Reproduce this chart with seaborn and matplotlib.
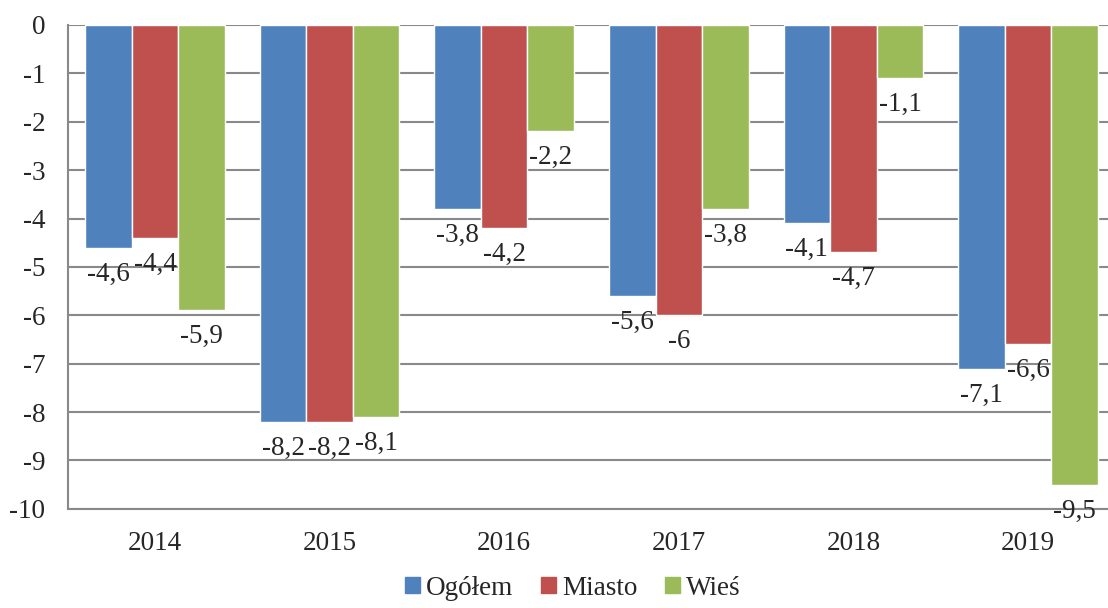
import pandas as pd
import matplotlib.pyplot as plt
import seaborn as sns

# Data
years = ['2014', '2015', '2016', '2017', '2018', '2019']
ogolem = [-4.6, -8.2, -3.8, -5.6, -4.1, -7.1]
miasto = [-4.4, -8.2, -4.2, -6.0, -4.7, -6.6]
wies = [-5.9, -8.1, -2.2, -3.8, -1.1, -9.5]
series = ['Ogółem', 'Miasto', 'Wieś']

df = pd.DataFrame({
    'rok': years * 3,
    'wartosc': ogolem + miasto + wies,
    'seria': [s for s in series for _ in years],
})

sns.set_style("white")
plt.rcParams['font.family'] = ['Liberation Serif', 'DejaVu Serif']
plt.rcParams['axes.unicode_minus'] = False
fs = 19.5

colors = ['#4F81BD', '#C0504D', '#9BBB59']

fig = plt.figure(figsize=(11.08, 6.08), dpi=100)
# plot area runs a little past the right edge of the picture
ax = fig.add_axes([0.0611, 0.163, 0.9455, 0.796])

sns.barplot(data=df, x='rok', y='wartosc', hue='seria', palette=colors,
            width=0.8, saturation=1, ax=ax, zorder=2, legend=False)

# Labels below each bar
for cont in ax.containers:
    for bar in cont:
        v = bar.get_height()
        txt = f'{v:g}'.replace('.', ',')
        ax.annotate(txt, (bar.get_x() + bar.get_width() / 2, v),
                    xytext=(0, -19), textcoords='offset points',
                    ha='center', va='center', fontsize=fs, zorder=3)

ax.set_ylim(-10, 0)
ax.set_xlim(-0.5, 5.5)
ax.set_yticks(range(-10, 1))
ax.yaxis.grid(True, color='#898989', linewidth=1.5, zorder=0)
ax.set_axisbelow(True)
for s in ['top', 'right']:
    ax.spines[s].set_visible(False)
for s in ['left', 'bottom']:
    ax.spines[s].set_color('#898989')
    ax.spines[s].set_linewidth(1.5)
ax.tick_params(axis='both', length=0, labelsize=fs)
ax.tick_params(axis='y', pad=16)
ax.tick_params(axis='x', pad=16)
ax.set_xlabel('')
ax.set_ylabel('')

handles = [plt.Rectangle((0, 0), 1, 1, color=c) for c in colors]
fig.legend(handles, series, loc='lower center', bbox_to_anchor=(0.517, -0.028),
           ncol=3, frameon=False, fontsize=fs, handlelength=0.55,
           handleheight=0.55, handletextpad=0.25, columnspacing=1.0)

fig.savefig('out.png', dpi=100)
